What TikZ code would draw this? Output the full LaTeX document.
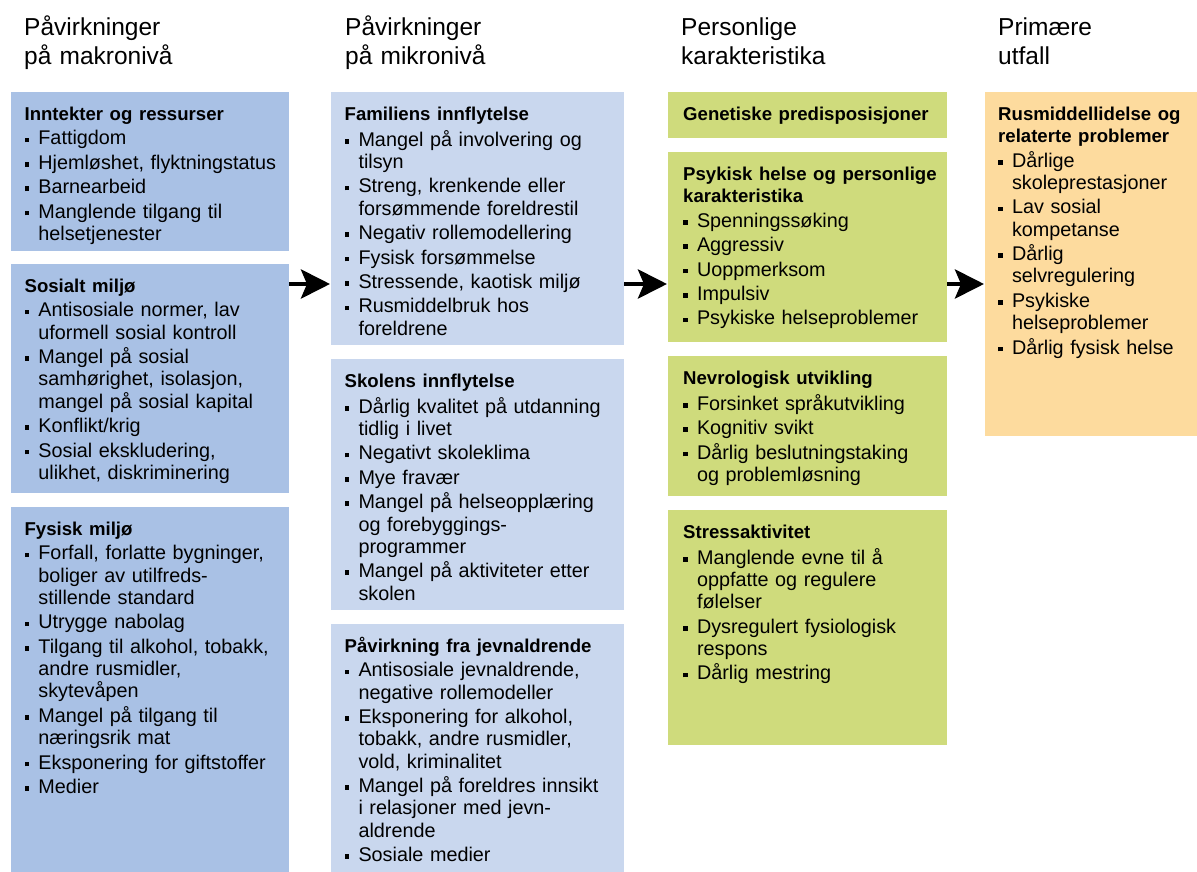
\documentclass[tikz,border=0pt]{standalone}
\usepackage{fontspec}
\setmainfont{Liberation Sans}
\usetikzlibrary{arrows.meta,positioning}

\definecolor{makro}{HTML}{A9C1E5}
\definecolor{mikro}{HTML}{C9D7EE}
\definecolor{person}{HTML}{CFDB7C}
\definecolor{utfall}{HTML}{FDDB9E}

% punkt i en liste
\newcommand{\pkt}{\par\hangindent=13.8pt\hangafter=1\noindent\makebox[13.8pt][l]{\rule[2.7pt]{4.6pt}{4.6pt}}}
\newcommand{\tittel}[1]{{\fontsize{18.6}{22.3}\selectfont\bfseries #1}}

\begin{document}
\begin{tikzpicture}[x=1pt,y=-1pt,
    boks/.style={fill=#1, draw=none, anchor=north west, inner sep=0pt},
    tekst/.style={anchor=north west, inner sep=0pt, text width=#1,
        font=\fontsize{19.8}{22.3}\selectfont,
        execute at begin node={\raggedright\parskip=2.1pt\strut}},
    overskrift/.style={anchor=north west, inner sep=0pt, text width=260pt,
        font=\fontsize{24.5}{28.5}\selectfont,
        execute at begin node={\raggedright\strut}},
    pil/.style={line width=4.6pt, -{Stealth[length=29pt,width=29pt,inset=6pt]}, shorten >=1pt}]

    \useasboundingbox (0,0) rectangle (1197,872);

    % Overskrifter
    \node[overskrift] (makro-overskrift) at (24,15.5) {Påvirkninger\newline på makronivå};
    \node[overskrift] (mikro-overskrift) at (345,15.5) {Påvirkninger\newline på mikronivå};
    \node[overskrift] (person-overskrift) at (681,15.5) {Personlige\newline karakteristika};
    \node[overskrift] (utfall-overskrift) at (998,15.5) {Primære\newline utfall};

    % Makronivå
    \node[boks=makro, minimum width=278pt, minimum height=159pt] (inntekt) at (11,92) {};
    \node[tekst=268pt] (inntekt-tekst) at ([shift={(13.4pt,-12.7pt)}]inntekt.north west)
        {\tittel{Inntekter og ressurser}\pkt Fattigdom\pkt Hjemløshet, flyktningstatus\pkt Barnearbeid
         \pkt Manglende tilgang til\newline helsetjenester\par};

    \node[boks=makro, minimum width=278pt, minimum height=229pt] (sosialt) at (11,264) {};
    \node[tekst=268pt] (sosialt-tekst) at ([shift={(13.4pt,-12.7pt)}]sosialt.north west)
        {\tittel{Sosialt miljø}\pkt Antisosiale normer, lav\newline uformell sosial kontroll
         \pkt Mangel på sosial\newline samhørighet, isolasjon,\newline mangel på sosial kapital
         \pkt Konflikt/krig\pkt Sosial ekskludering,\newline ulikhet, diskriminering\par};

    \node[boks=makro, minimum width=278pt, minimum height=365pt] (fysisk) at (11,507) {};
    \node[tekst=268pt] (fysisk-tekst) at ([shift={(13.4pt,-12.7pt)}]fysisk.north west)
        {\tittel{Fysisk miljø}\pkt Forfall, forlatte bygninger,\newline boliger av utilfreds-\newline stillende standard
         \pkt Utrygge nabolag\pkt Tilgang til alkohol, tobakk,\newline andre rusmidler,\newline skytevåpen
         \pkt Mangel på tilgang til\newline næringsrik mat\pkt Eksponering for giftstoffer\pkt Medier\par};

    % Mikronivå
    \node[boks=mikro, minimum width=293pt, minimum height=253pt] (familie) at (331,92) {};
    \node[tekst=282pt] (familie-tekst) at ([shift={(13.5pt,-12.7pt)}]familie.north west)
        {\tittel{Familiens innflytelse}\pkt Mangel på involvering og\newline tilsyn
         \pkt Streng, krenkende eller\newline forsømmende foreldrestil\pkt Negativ rollemodellering
         \pkt Fysisk forsømmelse\pkt Stressende, kaotisk miljø\pkt Rusmiddelbruk hos\newline foreldrene\par};

    \node[boks=mikro, minimum width=293pt, minimum height=251pt] (skole) at (331,359) {};
    \node[tekst=282pt] (skole-tekst) at ([shift={(13.5pt,-12.7pt)}]skole.north west)
        {\tittel{Skolens innflytelse}\pkt Dårlig kvalitet på utdanning\newline tidlig i livet
         \pkt Negativt skoleklima\pkt Mye fravær
         \pkt Mangel på helseopplæring\newline og forebyggings-\newline programmer
         \pkt Mangel på aktiviteter etter\newline skolen\par};

    \node[boks=mikro, minimum width=293pt, minimum height=248pt] (jevnaldrende) at (331,624) {};
    \node[tekst=282pt] (jevnaldrende-tekst) at ([shift={(13.5pt,-12.7pt)}]jevnaldrende.north west)
        {\tittel{Påvirkning fra jevnaldrende}\pkt Antisosiale jevnaldrende,\newline negative rollemodeller
         \pkt Eksponering for alkohol,\newline tobakk, andre rusmidler,\newline vold, kriminalitet
         \pkt Mangel på foreldres innsikt\newline i relasjoner med jevn-\newline aldrende
         \pkt Sosiale medier\par};

    % Personlige karakteristika
    \node[boks=person, minimum width=279pt, minimum height=46pt] (genetikk) at (668,92) {};
    \node[tekst=270pt] (genetikk-tekst) at ([shift={(15pt,-12.7pt)}]genetikk.north west)
        {\tittel{Genetiske predisposisjoner}};

    \node[boks=person, minimum width=279pt, minimum height=190pt] (psykisk) at (668,152) {};
    \node[tekst=270pt] (psykisk-tekst) at ([shift={(15pt,-12.7pt)}]psykisk.north west)
        {\tittel{Psykisk helse og personlige\newline karakteristika}\pkt Spenningssøking\pkt Aggressiv
         \pkt Uoppmerksom\pkt Impulsiv\pkt Psykiske helseproblemer\par};

    \node[boks=person, minimum width=279pt, minimum height=140pt] (nevro) at (668,356) {};
    \node[tekst=270pt] (nevro-tekst) at ([shift={(15pt,-12.7pt)}]nevro.north west)
        {\tittel{Nevrologisk utvikling}\pkt Forsinket språkutvikling\pkt Kognitiv svikt
         \pkt Dårlig beslutningstaking\newline og problemløsning\par};

    \node[boks=person, minimum width=279pt, minimum height=235pt] (stress) at (668,510) {};
    \node[tekst=270pt] (stress-tekst) at ([shift={(15pt,-12.7pt)}]stress.north west)
        {\tittel{Stressaktivitet}\pkt Manglende evne til å\newline oppfatte og regulere\newline følelser
         \pkt Dysregulert fysiologisk\newline respons\pkt Dårlig mestring\par};

    % Primære utfall
    \node[boks=utfall, minimum width=212pt, minimum height=344pt] (rus) at (985,92) {};
    \node[tekst=205pt] (rus-tekst) at ([shift={(13pt,-12.7pt)}]rus.north west)
        {\tittel{Rusmiddellidelse og\newline relaterte problemer}\pkt Dårlige\newline skoleprestasjoner
         \pkt Lav sosial\newline kompetanse\pkt Dårlig\newline selvregulering
         \pkt Psykiske\newline helseproblemer\pkt Dårlig fysisk helse\par};

    % Piler
    \coordinate (pilhoyde) at (0,284);
    \draw[pil] (sosialt.east |- pilhoyde) -- (familie.west |- pilhoyde);
    \draw[pil] (familie.east |- pilhoyde) -- (psykisk.west |- pilhoyde);
    \draw[pil] (psykisk.east |- pilhoyde) -- (rus.west |- pilhoyde);

\end{tikzpicture}
\end{document}
